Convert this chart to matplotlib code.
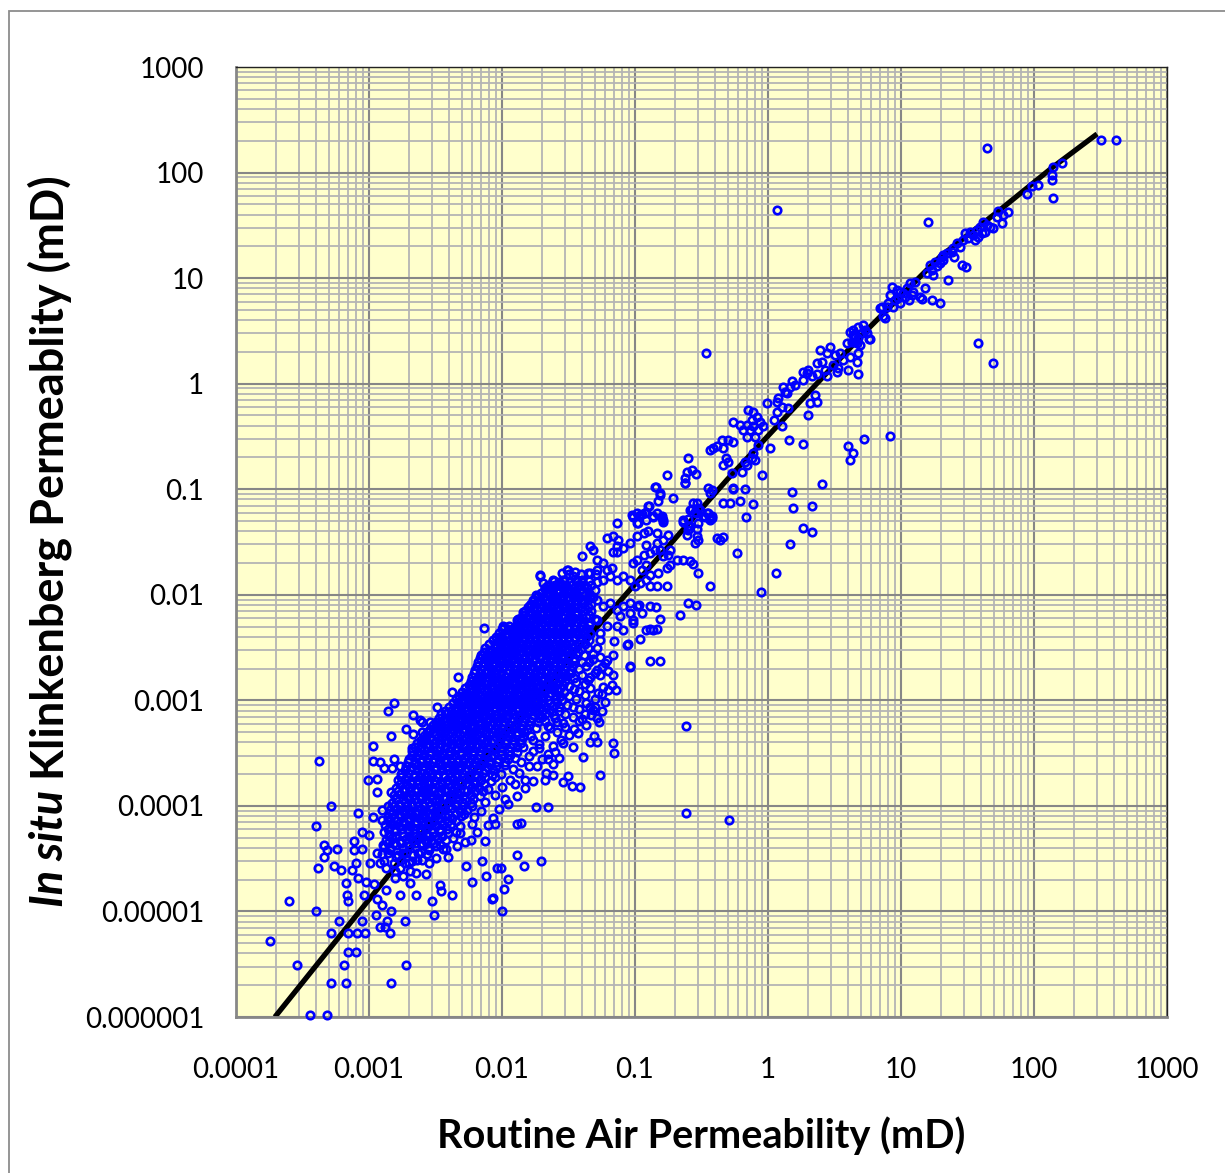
import matplotlib
matplotlib.use("Agg")
import matplotlib.pyplot as plt
from matplotlib.patches import Rectangle
from matplotlib.ticker import LogLocator, NullFormatter

# axis ticks
x_ticks = [1e-4, 1e-3, 1e-2, 1e-1, 1, 10, 100, 1000]
x_tick_labels = ['0.0001', '0.001', '0.01', '0.1', '1', '10', '100', '1000']
y_ticks = [1e-6, 1e-5, 1e-4, 1e-3, 1e-2, 1e-1, 1, 10, 100, 1000]
y_tick_labels = ['0.000001', '0.00001', '0.0001', '0.001', '0.01', '0.1', '1', '10', '100', '1000']

# correlation curve (routine air k -> in situ Klinkenberg k)
curve_x = [1.96e-4, 3.03e-3, 3.66e-2, 0.492, 5.55, 19.6, 55.5, 139, 298]
curve_y = [1.0e-6, 7.4e-5, 3.01e-3, 0.123, 3.23, 15.9, 44.3, 113, 232]

# samples: (routine air k, in situ k) in mD
tail_pts = [
    (1.8e-4,5.2e-6),(2.5e-4,1.25e-5),(4.0e-4,1.02e-5),(2.9e-4,3.1e-6),(3.6e-4,1.05e-6),(4.8e-4,1.05e-6),
    (5.2e-4,6.2e-6),(5.2e-4,2.1e-6),(6.7e-4,2.1e-6),(6.5e-4,3.1e-6),(6.9e-4,4.1e-6),(8.0e-4,4.1e-6),
    (8.1e-4,6.2e-6),(9.3e-4,6.2e-6),(6.9e-4,6.2e-6),(6.0e-4,8.2e-6),(8.9e-4,8.2e-6),(6.9e-4,1.25e-5),
    (1.12e-3,9.2e-6),(1.25e-3,1.14e-5),(1.46e-3,1.02e-5),(1.36e-3,8.2e-6),(1.21e-3,7.2e-6),(1.33e-3,7.2e-6),
    (1.44e-3,6.2e-6),(1.87e-3,8.2e-6),(1.9e-3,3.1e-6),(1.46e-3,2.1e-6),(2.96e-3,1.25e-5),(3.06e-3,9.2e-6),
    (8.4e-3,1.3e-5),(1.0e-2,1.02e-5),
    (4.0e-4,6.5e-5),(4.6e-4,4.3e-5),(4.8e-4,3.85e-5),(4.6e-4,3.3e-5),(5.7e-4,3.9e-5),(5.5e-4,2.7e-5),
    (4.1e-4,2.6e-5),(6.2e-4,2.45e-5),(6.7e-4,1.86e-5),(6.8e-4,1.44e-5),(7.7e-4,4.6e-5),(8.8e-4,5.7e-5),
    (1.0e-3,5.3e-5),(7.7e-4,3.85e-5),(8.8e-4,3.9e-5),(8.0e-4,2.9e-5),(1.01e-3,2.9e-5),(7.4e-4,2.45e-5),
    (8.2e-4,2.07e-5),(9.5e-4,1.9e-5),(1.09e-3,1.8e-5),(9.2e-4,1.42e-5),(1.14e-3,1.3e-5),(3.4e-3,1.77e-5),
    (3.5e-3,1.55e-5),(4.2e-3,1.42e-5),(2.25e-3,1.42e-5),(1.7e-3,1.42e-5),(2.05e-3,1.86e-5),(2.7e-3,2.26e-5),
    (2.85e-3,2.9e-5),(3.95e-3,3.3e-5),(5.9e-3,1.9e-5),(5.4e-3,2.7e-5),(7.1e-3,3.0e-5),(7.6e-3,2.15e-5),
    (8.5e-3,1.33e-5),(1.03e-2,1.63e-5),(1.1e-2,2.05e-5),(9.1e-3,2.6e-5),(9.8e-3,2.6e-5),(1.29e-2,3.4e-5),
    (1.46e-2,2.7e-5),(7.4e-3,4.6e-5),(1.3e-2,6.8e-5),(8.8e-3,6.8e-5),(5.3e-3,4.5e-5),(3.8e-3,3.9e-5),
    (3.4e-3,4.3e-5),(4.8e-3,5.5e-5),(1.38e-2,6.9e-5),(1.95e-2,3.0e-5),(1.8e-2,9.8e-5),(2.2e-2,9.8e-5),
    (1.35e-3,1.6e-5),(1.57e-3,2.07e-5),(1.8e-3,2.15e-5),(1.35e-3,2.6e-5),(1.57e-3,2.4e-5),(1.7e-3,2.6e-5),
    (2.05e-3,2.4e-5),(1.87e-3,2.9e-5),(2.1e-3,3.0e-5),(1.6e-3,3.3e-5),(1.8e-3,3.6e-5),(1.44e-3,3.85e-5),
    (1.27e-3,4.3e-5),(1.14e-3,3.6e-5),(1.2e-3,2.9e-5),(2.34e-3,3.6e-5),(2.5e-3,3.1e-5),(2.27e-3,2.3e-5),
    (2.85e-3,3.85e-5),(3.2e-3,3.2e-5),(2.7e-3,4.8e-5),
]

left_pts = [
    (1.53e-3,9.4e-4),(1.38e-3,7.9e-4),(2.15e-3,7.2e-4),(2.5e-3,6.3e-4),(1.9e-3,5.3e-4),(1.46e-3,4.6e-4),
    (2.13e-3,4.8e-4),(2.5e-3,5.0e-4),(1.07e-3,3.7e-4),(2.1e-3,3.55e-4),(4.2e-4,2.64e-4),(1.07e-3,2.64e-4),
    (1.22e-3,2.6e-4),(1.53e-3,2.8e-4),(1.7e-3,2.4e-4),(1.3e-3,2.3e-4),(1.5e-3,2.3e-4),(9.9e-4,1.77e-4),
    (1.14e-3,1.78e-4),(1.14e-3,1.34e-4),(1.47e-3,1.34e-4),(5.2e-4,1.0e-4),(8.2e-4,8.6e-5),(1.08e-3,7.9e-5),
    (1.25e-3,9.1e-5),(1.38e-3,1.0e-4),(1.25e-3,7.4e-5),(1.38e-3,7.4e-5),
    (4.7e-3,1.68e-3),(4.2e-3,1.21e-3),(3.27e-3,8.65e-4),(2.43e-3,6.5e-4),(2.9e-3,6.2e-4),
    (1.93e-2,1.55e-2),(2.04e-2,1.29e-2),(2.1e-2,1.16e-2),(2.23e-2,1.13e-2),(2.46e-2,1.34e-2),(2.65e-2,1.24e-2),
    (2.89e-2,1.39e-2),(3.06e-2,1.73e-2),(1.8e-2,9.9e-3),(1.62e-2,8.0e-3),(1.45e-2,6.8e-3),(1.6e-2,6.8e-3),
    (7.33e-3,4.84e-3),(1.035e-2,4.94e-3),(1.32e-2,5.89e-3),(1.29e-2,5.2e-3),(1.36e-2,4.34e-3),(9.9e-3,4.03e-3),
    (1.01e-2,3.61e-3),(1.15e-2,3.75e-3),(9.66e-3,2.7e-3),(7.02e-3,2.7e-3),(7.66e-3,2.6e-3),(1.11e-2,2.9e-3),
]

right_pts = [
    (0.092,2.1e-3),(0.088,3.4e-3),(0.072,1.26e-3),(0.0667,1.41e-3),(0.0578,1.35e-3),(0.063,1.88e-3),
    (0.0688,1.75e-3),(0.0546,1.75e-3),(0.0562,7.85e-4),(0.0515,6.8e-4),(0.0486,8.15e-4),(0.0679,3.94e-4),
    (0.0698,3.2e-4),(0.0492,4.6e-4),(0.0515,4.0e-4),(0.0459,4.0e-4),(0.0405,2.9e-4),(0.0546,1.97e-4),
    (0.0387,1.5e-4),(0.0334,1.56e-4),(0.0289,1.67e-4),(0.0316,1.9e-4),(0.024,1.97e-4),(0.021,1.77e-4),
    (0.0214,2.05e-4),(0.0149,1.77e-4),(0.0182,2.37e-4),(0.0199,2.78e-4),(0.24,5.66e-4),(0.24,8.55e-5),
    (0.51,7.4e-5),
    (2.4e-2,3.7e-4),(2.8e-2,4.2e-4),(3.4e-2,3.6e-4),(2.6e-2,5.0e-4),(3.0e-2,5.6e-4),(3.7e-2,4.9e-4),(4.3e-2,5.8e-4),
    (2.5e-2,6.8e-4),(2.9e-2,6.1e-4),(3.4e-2,7.0e-4),(4.0e-2,6.6e-4),(4.7e-2,7.2e-4),(5.4e-2,6.3e-4),
    (2.7e-2,8.0e-4),(3.1e-2,9.1e-4),(3.8e-2,8.2e-4),(4.3e-2,9.4e-4),(5.0e-2,8.6e-4),(6.0e-2,9.7e-4),
    (3.2e-2,1.1e-3),(3.5e-2,1.27e-3),(4.2e-2,1.12e-3),(4.6e-2,1.32e-3),(5.6e-2,1.15e-3),(6.3e-2,1.25e-3),
    (3.6e-2,1.5e-3),(4.0e-2,1.75e-3),(4.4e-2,1.55e-3),(5.0e-2,1.8e-3),(3.3e-2,1.8e-3),(4.3e-2,2.1e-3),
    (5.6e-2,2.05e-3),(4.8e-2,2.45e-3),(5.5e-2,2.6e-3),(6.2e-2,2.4e-3),
    (2.2e-2,5.7e-4),(2.0e-2,7.0e-4),(2.3e-2,8.1e-4),(2.6e-2,9.6e-4),(2.75e-2,1.1e-3),
    (1.2e-2,2.25e-4),(1.4e-2,2.6e-4),(1.6e-2,3.0e-4),(1.45e-2,3.6e-4),(1.7e-2,4.2e-4),(1.9e-2,3.5e-4),
    (2.2e-2,3.1e-4),(1.25e-2,1.6e-4),(1.05e-2,1.15e-4),(2.4e-2,2.5e-4),
]

core_low = [
    (1.3e-3,3.0e-5),(1.55e-3,2.9e-5),(1.75e-3,3.1e-5),(2.0e-3,2.85e-5),(2.3e-3,3.05e-5),
    (1.25e-3,3.5e-5),(1.4e-3,3.6e-5),(1.65e-3,3.4e-5),(1.9e-3,3.55e-5),(2.15e-3,3.45e-5),(2.45e-3,3.65e-5),(2.75e-3,3.5e-5),
    (1.3e-3,4.1e-5),(1.45e-3,4.0e-5),(1.6e-3,4.25e-5),(1.8e-3,3.95e-5),(2.0e-3,4.2e-5),(2.25e-3,4.05e-5),
    (2.5e-3,4.3e-5),(2.8e-3,4.0e-5),(3.2e-3,4.15e-5),(3.6e-3,3.9e-5),(4.6e-3,4.2e-5),
    (1.35e-3,4.8e-5),(1.5e-3,4.95e-5),(1.7e-3,4.7e-5),(1.9e-3,4.9e-5),(2.1e-3,4.75e-5),(2.35e-3,5.0e-5),
    (2.65e-3,4.8e-5),(2.95e-3,4.65e-5),(3.3e-3,4.9e-5),(3.8e-3,4.75e-5),(4.3e-3,5.0e-5),(5.8e-3,4.8e-5),
    (1.3e-3,5.6e-5),(1.42e-3,5.45e-5),(1.6e-3,5.75e-5),(1.78e-3,5.5e-5),(2.0e-3,5.8e-5),(2.2e-3,5.55e-5),
    (2.45e-3,5.7e-5),(2.7e-3,5.4e-5),(3.05e-3,5.65e-5),(3.4e-3,5.8e-5),(3.9e-3,5.5e-5),(4.5e-3,5.6e-5),(6.5e-3,5.7e-5),
    (1.32e-3,6.6e-5),(1.5e-3,6.8e-5),(1.68e-3,6.45e-5),(1.85e-3,6.7e-5),(2.05e-3,6.5e-5),(2.3e-3,6.85e-5),
    (2.55e-3,6.55e-5),(2.85e-3,6.75e-5),(3.2e-3,6.4e-5),(3.6e-3,6.65e-5),(4.1e-3,6.8e-5),(4.8e-3,6.5e-5),
    (6.0e-3,6.7e-5),(7.8e-3,6.55e-5),
    (1.4e-3,7.8e-5),(1.55e-3,7.6e-5),(1.75e-3,8.0e-5),(1.95e-3,7.7e-5),(2.15e-3,8.1e-5),(2.4e-3,7.55e-5),
    (2.65e-3,7.9e-5),(2.95e-3,8.05e-5),(3.3e-3,7.65e-5),(3.7e-3,7.95e-5),(4.2e-3,7.7e-5),(4.9e-3,8.0e-5),
    (6.2e-3,7.8e-5),(8.5e-3,7.6e-5),
    (1.45e-3,9.1e-5),(1.62e-3,9.35e-5),(1.8e-3,8.9e-5),(2.0e-3,9.2e-5),(2.2e-3,8.8e-5),(2.45e-3,9.4e-5),
    (2.7e-3,9.0e-5),(3.0e-3,9.3e-5),(3.35e-3,8.85e-5),(3.75e-3,9.15e-5),(4.2e-3,9.45e-5),(4.8e-3,8.95e-5),
    (5.5e-3,9.2e-5),(7.0e-3,9.0e-5),(9.5e-3,9.3e-5),
    (1.5e-3,1.07e-4),(1.68e-3,1.04e-4),(1.88e-3,1.1e-4),(2.1e-3,1.05e-4),(2.3e-3,1.09e-4),(2.55e-3,1.03e-4),
    (2.85e-3,1.08e-4),(3.15e-3,1.11e-4),(3.5e-3,1.05e-4),(3.9e-3,1.08e-4),(4.4e-3,1.04e-4),(5.0e-3,1.1e-4),
    (5.8e-3,1.06e-4),(7.5e-3,1.08e-4),(1.1e-2,1.05e-4),
    (1.55e-3,1.26e-4),(1.72e-3,1.3e-4),(1.92e-3,1.22e-4),(2.15e-3,1.28e-4),(2.4e-3,1.24e-4),(2.65e-3,1.31e-4),
    (2.95e-3,1.25e-4),(3.3e-3,1.29e-4),(3.65e-3,1.21e-4),(4.05e-3,1.27e-4),(4.55e-3,1.3e-4),(5.1e-3,1.23e-4),
    (5.8e-3,1.28e-4),(6.8e-3,1.25e-4),(8.8e-3,1.27e-4),(1.3e-2,1.24e-4),
    (1.6e-3,1.48e-4),(1.8e-3,1.44e-4),(2.0e-3,1.52e-4),(2.2e-3,1.46e-4),(2.45e-3,1.5e-4),(2.7e-3,1.43e-4),
    (3.0e-3,1.49e-4),(3.35e-3,1.53e-4),(3.7e-3,1.45e-4),(4.1e-3,1.5e-4),(4.6e-3,1.47e-4),(5.2e-3,1.42e-4),
    (5.9e-3,1.51e-4),(6.7e-3,1.48e-4),(7.8e-3,1.45e-4),(1.0e-2,1.5e-4),(1.5e-2,1.47e-4),
    (1.65e-3,1.74e-4),(1.85e-3,1.79e-4),(2.05e-3,1.7e-4),(2.3e-3,1.76e-4),(2.55e-3,1.8e-4),(2.8e-3,1.71e-4),
    (3.1e-3,1.77e-4),(3.45e-3,1.69e-4),(3.85e-3,1.75e-4),(4.3e-3,1.8e-4),(4.8e-3,1.72e-4),(5.4e-3,1.78e-4),
    (6.1e-3,1.7e-4),(7.0e-3,1.76e-4),(8.2e-3,1.73e-4),(1.15e-2,1.77e-4),(1.7e-2,1.71e-4),
    (1.75e-3,2.0e-4),(1.95e-3,2.06e-4),(2.2e-3,1.96e-4),(2.45e-3,2.03e-4),(2.7e-3,1.98e-4),(3.0e-3,2.07e-4),
    (3.3e-3,2.0e-4),(3.65e-3,1.95e-4),(4.05e-3,2.04e-4),(4.5e-3,1.99e-4),(5.0e-3,2.06e-4),(5.6e-3,1.97e-4),
    (6.3e-3,2.02e-4),(7.2e-3,2.05e-4),(8.4e-3,1.96e-4),(9.8e-3,2.01e-4),(1.35e-2,2.04e-4),
    (1.9e-3,2.4e-4),(2.1e-3,2.34e-4),(2.35e-3,2.46e-4),(2.6e-3,2.37e-4),(2.9e-3,2.43e-4),(3.2e-3,2.33e-4),
    (3.55e-3,2.45e-4),(3.95e-3,2.38e-4),(4.4e-3,2.42e-4),(4.9e-3,2.35e-4),(5.5e-3,2.47e-4),(6.1e-3,2.39e-4),
    (6.9e-3,2.44e-4),(7.8e-3,2.36e-4),(9.0e-3,2.41e-4),(1.05e-2,2.44e-4),(1.6e-2,2.38e-4),
]

core_mid = [
    (2.0e-3,2.8e-4),(2.25e-3,2.88e-4),(2.5e-3,2.74e-4),(2.8e-3,2.85e-4),(3.1e-3,2.77e-4),(3.45e-3,2.9e-4),
    (3.8e-3,2.78e-4),(4.2e-3,2.84e-4),(4.7e-3,2.72e-4),(5.2e-3,2.87e-4),(5.8e-3,2.79e-4),(6.5e-3,2.83e-4),
    (7.3e-3,2.75e-4),(8.2e-3,2.89e-4),(9.4e-3,2.8e-4),(1.1e-2,2.76e-4),(1.25e-2,2.86e-4),(2.2e-2,2.8e-4),(2.7e-2,2.84e-4),
    (2.1e-3,3.3e-4),(2.35e-3,3.22e-4),(2.6e-3,3.38e-4),(2.9e-3,3.26e-4),(3.25e-3,3.35e-4),(3.6e-3,3.2e-4),
    (4.0e-3,3.32e-4),(4.45e-3,3.4e-4),(4.95e-3,3.25e-4),(5.5e-3,3.36e-4),(6.1e-3,3.28e-4),(6.8e-3,3.34e-4),
    (7.6e-3,3.21e-4),(8.6e-3,3.37e-4),(9.8e-3,3.29e-4),(1.12e-2,3.33e-4),(1.3e-2,3.24e-4),(1.7e-2,3.31e-4),(2.5e-2,3.27e-4),
    (2.3e-3,3.9e-4),(2.55e-3,3.99e-4),(2.85e-3,3.82e-4),(3.15e-3,3.95e-4),(3.5e-3,3.86e-4),(3.9e-3,4.0e-4),
    (4.3e-3,3.88e-4),(4.8e-3,3.94e-4),(5.3e-3,3.8e-4),(5.9e-3,3.97e-4),(6.6e-3,3.85e-4),(7.4e-3,3.92e-4),
    (8.3e-3,4.01e-4),(9.3e-3,3.84e-4),(1.05e-2,3.96e-4),(1.2e-2,3.87e-4),(1.4e-2,3.93e-4),(1.9e-2,3.89e-4),(2.9e-2,3.98e-4),
    (2.6e-3,4.6e-4),(2.9e-3,4.5e-4),(3.2e-3,4.7e-4),(3.55e-3,4.55e-4),(3.95e-3,4.68e-4),(4.35e-3,4.52e-4),
    (4.8e-3,4.65e-4),(5.35e-3,4.48e-4),(5.9e-3,4.62e-4),(6.5e-3,4.72e-4),(7.2e-3,4.54e-4),(8.0e-3,4.66e-4),
    (9.0e-3,4.5e-4),(1.0e-2,4.64e-4),(1.12e-2,4.57e-4),(1.27e-2,4.7e-4),(1.45e-2,4.53e-4),(1.65e-2,4.61e-4),
    (2.1e-2,4.58e-4),(3.2e-2,4.66e-4),
    (2.9e-3,5.4e-4),(3.2e-3,5.52e-4),(3.55e-3,5.3e-4),(3.9e-3,5.46e-4),(4.3e-3,5.34e-4),(4.75e-3,5.55e-4),
    (5.25e-3,5.38e-4),(5.8e-3,5.5e-4),(6.4e-3,5.28e-4),(7.1e-3,5.44e-4),(7.9e-3,5.56e-4),(8.8e-3,5.33e-4),
    (9.8e-3,5.48e-4),(1.1e-2,5.36e-4),(1.23e-2,5.53e-4),(1.38e-2,5.41e-4),(1.55e-2,5.31e-4),(1.8e-2,5.49e-4),
    (2.3e-2,5.42e-4),(3.5e-2,5.37e-4),
    (3.2e-3,6.3e-4),(3.5e-3,6.15e-4),(3.85e-3,6.42e-4),(4.25e-3,6.22e-4),(4.7e-3,6.38e-4),(5.2e-3,6.12e-4),
    (5.75e-3,6.35e-4),(6.3e-3,6.45e-4),(6.95e-3,6.2e-4),(7.7e-3,6.33e-4),(8.5e-3,6.18e-4),(9.4e-3,6.4e-4),
    (1.04e-2,6.25e-4),(1.16e-2,6.36e-4),(1.3e-2,6.14e-4),(1.45e-2,6.3e-4),(1.62e-2,6.43e-4),(1.85e-2,6.21e-4),
    (2.1e-2,6.34e-4),(2.6e-2,6.27e-4),(3.8e-2,6.39e-4),
    (3.5e-3,7.4e-4),(3.85e-3,7.58e-4),(4.2e-3,7.25e-4),(4.65e-3,7.5e-4),(5.1e-3,7.3e-4),(5.65e-3,7.55e-4),
    (6.2e-3,7.35e-4),(6.85e-3,7.6e-4),(7.55e-3,7.22e-4),(8.3e-3,7.46e-4),(9.2e-3,7.32e-4),(1.01e-2,7.57e-4),
    (1.12e-2,7.28e-4),(1.24e-2,7.48e-4),(1.38e-2,7.36e-4),(1.53e-2,7.53e-4),(1.7e-2,7.26e-4),(1.9e-2,7.44e-4),
    (2.15e-2,7.59e-4),(2.45e-2,7.31e-4),(3.0e-2,7.42e-4),(4.2e-2,7.5e-4),
    (4.0e-3,8.7e-4),(4.4e-3,8.5e-4),(4.85e-3,8.88e-4),(5.35e-3,8.6e-4),(5.9e-3,8.82e-4),(6.5e-3,8.52e-4),
    (7.15e-3,8.75e-4),(7.9e-3,8.9e-4),(8.7e-3,8.56e-4),(9.6e-3,8.8e-4),(1.06e-2,8.62e-4),(1.17e-2,8.85e-4),
    (1.29e-2,8.54e-4),(1.42e-2,8.77e-4),(1.57e-2,8.65e-4),(1.74e-2,8.92e-4),(1.93e-2,8.58e-4),(2.15e-2,8.72e-4),
    (2.4e-2,8.84e-4),(2.7e-2,8.6e-4),(3.4e-2,8.74e-4),(4.6e-2,8.66e-4),
    (4.5e-3,1.02e-3),(4.95e-3,1.0e-3),(5.45e-3,1.045e-3),(6.0e-3,1.01e-3),(6.6e-3,1.04e-3),(7.25e-3,9.95e-4),
    (8.0e-3,1.03e-3),(8.8e-3,1.05e-3),(9.7e-3,1.005e-3),(1.07e-2,1.035e-3),(1.18e-2,1.0e-3),(1.3e-2,1.04e-3),
    (1.43e-2,1.01e-3),(1.58e-2,1.03e-3),(1.75e-2,9.98e-4),(1.95e-2,1.045e-3),(2.2e-2,1.015e-3),(2.5e-2,1.025e-3),
    (2.85e-2,1.0e-3),(3.6e-2,1.03e-3),(5.0e-2,1.02e-3),
    (5.0e-3,1.2e-3),(5.5e-3,1.17e-3),(6.05e-3,1.23e-3),(6.65e-3,1.18e-3),(7.3e-3,1.22e-3),(8.05e-3,1.16e-3),
    (8.85e-3,1.21e-3),(9.75e-3,1.24e-3),(1.07e-2,1.18e-3),(1.18e-2,1.22e-3),(1.3e-2,1.17e-3),(1.43e-2,1.23e-3),
    (1.58e-2,1.19e-3),(1.74e-2,1.21e-3),(1.92e-2,1.16e-3),(2.12e-2,1.235e-3),(2.35e-2,1.185e-3),(2.62e-2,1.215e-3),
    (2.95e-2,1.195e-3),(3.8e-2,1.22e-3),(5.3e-2,1.18e-3),
]

core_high = [
    (5.6e-3,1.4e-3),(6.15e-3,1.43e-3),(6.75e-3,1.37e-3),(7.4e-3,1.42e-3),(8.15e-3,1.38e-3),(8.95e-3,1.44e-3),
    (9.85e-3,1.36e-3),(1.08e-2,1.41e-3),(1.19e-2,1.435e-3),(1.31e-2,1.375e-3),(1.44e-2,1.42e-3),(1.59e-2,1.385e-3),
    (1.75e-2,1.445e-3),(1.93e-2,1.39e-3),(2.13e-2,1.415e-3),(2.35e-2,1.365e-3),(2.6e-2,1.43e-3),(2.9e-2,1.4e-3),
    (3.2e-2,1.38e-3),(4.2e-2,1.42e-3),
    (6.0e-3,1.65e-3),(6.6e-3,1.61e-3),(7.25e-3,1.69e-3),(7.95e-3,1.63e-3),(8.75e-3,1.68e-3),(9.6e-3,1.6e-3),
    (1.06e-2,1.67e-3),(1.16e-2,1.62e-3),(1.28e-2,1.7e-3),(1.41e-2,1.64e-3),(1.55e-2,1.66e-3),(1.7e-2,1.615e-3),
    (1.87e-2,1.685e-3),(2.06e-2,1.635e-3),(2.27e-2,1.675e-3),(2.5e-2,1.6e-3),(2.75e-2,1.66e-3),(3.05e-2,1.69e-3),
    (3.5e-2,1.63e-3),(4.6e-2,1.65e-3),
    (6.3e-3,1.95e-3),(6.95e-3,2.0e-3),(7.65e-3,1.9e-3),(8.4e-3,1.97e-3),(9.25e-3,1.92e-3),(1.02e-2,2.01e-3),
    (1.12e-2,1.93e-3),(1.23e-2,1.98e-3),(1.35e-2,1.89e-3),(1.49e-2,1.96e-3),(1.64e-2,2.0e-3),(1.8e-2,1.91e-3),
    (1.98e-2,1.97e-3),(2.18e-2,1.94e-3),(2.4e-2,1.99e-3),(2.65e-2,1.9e-3),(2.95e-2,1.96e-3),(3.3e-2,1.93e-3),
    (3.8e-2,1.98e-3),(5.2e-2,1.95e-3),
    (6.6e-3,2.3e-3),(7.3e-3,2.25e-3),(8.0e-3,2.35e-3),(8.8e-3,2.27e-3),(9.7e-3,2.33e-3),(1.07e-2,2.24e-3),
    (1.17e-2,2.36e-3),(1.29e-2,2.28e-3),(1.42e-2,2.32e-3),(1.56e-2,2.22e-3),(1.72e-2,2.34e-3),(1.89e-2,2.26e-3),
    (2.08e-2,2.31e-3),(2.29e-2,2.37e-3),(2.52e-2,2.25e-3),(2.78e-2,2.3e-3),(3.1e-2,2.27e-3),(3.5e-2,2.34e-3),
    (4.0e-2,2.29e-3),(4.5e-2,2.33e-3),(6.0e-2,2.28e-3),
    (7.0e-3,2.7e-3),(7.7e-3,2.76e-3),(8.5e-3,2.64e-3),(9.3e-3,2.73e-3),(1.02e-2,2.66e-3),(1.12e-2,2.78e-3),
    (1.23e-2,2.68e-3),(1.35e-2,2.74e-3),(1.49e-2,2.62e-3),(1.64e-2,2.71e-3),(1.8e-2,2.77e-3),(1.98e-2,2.65e-3),
    (2.18e-2,2.72e-3),(2.4e-2,2.69e-3),(2.64e-2,2.75e-3),(2.9e-2,2.63e-3),(3.2e-2,2.7e-3),(3.6e-2,2.74e-3),
    (4.1e-2,2.67e-3),(4.8e-2,2.72e-3),(6.8e-2,2.7e-3),
    (7.5e-3,3.1e-3),(8.3e-3,3.03e-3),(9.1e-3,3.18e-3),(1.0e-2,3.06e-3),(1.1e-2,3.15e-3),(1.21e-2,3.01e-3),
    (1.33e-2,3.12e-3),(1.46e-2,3.2e-3),(1.61e-2,3.05e-3),(1.77e-2,3.14e-3),(1.95e-2,3.08e-3),(2.15e-2,3.17e-3),
    (2.37e-2,3.02e-3),(2.6e-2,3.11e-3),(2.86e-2,3.19e-3),(3.15e-2,3.04e-3),(3.5e-2,3.13e-3),(3.9e-2,3.07e-3),
    (4.4e-2,3.16e-3),(5.2e-2,3.1e-3),
    (8.5e-3,3.7e-3),(9.3e-3,3.62e-3),(1.02e-2,3.8e-3),(1.12e-2,3.65e-3),(1.23e-2,3.76e-3),(1.35e-2,3.6e-3),
    (1.48e-2,3.73e-3),(1.63e-2,3.82e-3),(1.79e-2,3.64e-3),(1.97e-2,3.75e-3),(2.17e-2,3.67e-3),(2.39e-2,3.79e-3),
    (2.63e-2,3.61e-3),(2.9e-2,3.72e-3),(3.2e-2,3.68e-3),(3.55e-2,3.78e-3),(3.95e-2,3.63e-3),(4.5e-2,3.74e-3),
    (5.5e-2,3.7e-3),(7.0e-2,3.66e-3),
    (9.5e-3,4.3e-3),(1.05e-2,4.2e-3),(1.16e-2,4.4e-3),(1.28e-2,4.25e-3),(1.4e-2,4.37e-3),(1.54e-2,4.18e-3),
    (1.7e-2,4.33e-3),(1.87e-2,4.42e-3),(2.05e-2,4.23e-3),(2.26e-2,4.35e-3),(2.48e-2,4.27e-3),(2.73e-2,4.39e-3),
    (3.0e-2,4.21e-3),(3.3e-2,4.32e-3),(3.65e-2,4.28e-3),(4.05e-2,4.38e-3),(4.6e-2,4.24e-3),(5.5e-2,4.3e-3),
    (1.12e-2,5.1e-3),(1.25e-2,5.0e-3),(1.4e-2,5.2e-3),(1.55e-2,5.05e-3),(1.72e-2,5.18e-3),(1.9e-2,4.98e-3),
    (2.1e-2,5.14e-3),(2.35e-2,5.22e-3),(2.6e-2,5.03e-3),(2.9e-2,5.16e-3),(3.2e-2,5.07e-3),(3.55e-2,5.2e-3),
    (3.95e-2,5.01e-3),(4.5e-2,5.12e-3),
    (1.4e-2,6.0e-3),(1.55e-2,6.12e-3),(1.72e-2,5.9e-3),(1.9e-2,6.08e-3),(2.1e-2,5.94e-3),(2.32e-2,6.15e-3),
    (2.56e-2,5.97e-3),(2.83e-2,6.1e-3),(3.12e-2,5.88e-3),(3.45e-2,6.05e-3),(3.82e-2,5.95e-3),(4.25e-2,6.13e-3),
    (5.0e-2,5.92e-3),
    (1.5e-2,7.0e-3),(1.66e-2,6.88e-3),(1.83e-2,7.12e-3),(2.02e-2,6.92e-3),(2.23e-2,7.08e-3),(2.46e-2,6.85e-3),
    (2.72e-2,7.14e-3),(3.0e-2,6.95e-3),(3.32e-2,7.1e-3),(3.68e-2,6.9e-3),(4.1e-2,7.05e-3),(4.7e-2,6.98e-3),
    (1.65e-2,8.2e-3),(1.83e-2,8.35e-3),(2.02e-2,8.08e-3),(2.23e-2,8.28e-3),(2.46e-2,8.12e-3),(2.72e-2,8.38e-3),
    (3.0e-2,8.05e-3),(3.32e-2,8.25e-3),(3.68e-2,8.15e-3),(4.1e-2,8.32e-3),(4.7e-2,8.1e-3),
    (1.85e-2,9.7e-3),(2.05e-2,9.55e-3),(2.27e-2,9.85e-3),(2.51e-2,9.6e-3),(2.78e-2,9.82e-3),(3.07e-2,9.52e-3),
    (3.4e-2,9.78e-3),(3.77e-2,9.63e-3),(4.2e-2,9.88e-3),(4.8e-2,9.58e-3),
    (2.1e-2,1.14e-2),(2.33e-2,1.16e-2),(2.58e-2,1.12e-2),(2.86e-2,1.155e-2),(3.17e-2,1.125e-2),(3.5e-2,1.165e-2),
    (3.9e-2,1.13e-2),(4.35e-2,1.15e-2),(5.0e-2,1.12e-2),
    (2.4e-2,1.34e-2),(2.66e-2,1.32e-2),(2.95e-2,1.365e-2),(3.27e-2,1.325e-2),(3.62e-2,1.355e-2),(4.02e-2,1.315e-2),
    (4.5e-2,1.36e-2),(5.2e-2,1.33e-2),
    (2.85e-2,1.6e-2),(3.2e-2,1.57e-2),(3.55e-2,1.63e-2),(3.95e-2,1.58e-2),(4.45e-2,1.62e-2),(5.1e-2,1.59e-2),
]

# in-between rows of the dense cloud: in situ value of each row, then its air values
fill_y = [4.45e-5, 5.2e-5, 6.1e-5, 7.2e-5, 8.4e-5, 9.9e-5, 1.16e-4, 1.37e-4, 1.6e-4, 1.87e-4, 2.2e-4, 2.6e-4,
          3.05e-4, 3.6e-4, 4.25e-4, 5.0e-4, 5.85e-4, 6.85e-4, 8.0e-4, 9.4e-4, 1.1e-3, 1.3e-3, 1.52e-3, 1.8e-3,
          2.12e-3, 2.5e-3, 2.9e-3, 3.4e-3, 4.0e-3, 4.7e-3, 5.55e-3, 6.5e-3, 7.6e-3, 8.9e-3, 1.05e-2, 1.24e-2]
fill_x = [
    [1.38e-3, 1.55e-3, 1.75e-3, 1.95e-3, 2.2e-3, 2.45e-3, 2.75e-3, 3.1e-3],
    [1.42e-3, 1.6e-3, 1.8e-3, 2.0e-3, 2.25e-3, 2.5e-3, 2.8e-3, 3.15e-3, 3.55e-3],
    [1.4e-3, 1.58e-3, 1.76e-3, 1.95e-3, 2.18e-3, 2.42e-3, 2.7e-3, 3.0e-3, 3.4e-3, 3.85e-3],
    [1.45e-3, 1.62e-3, 1.8e-3, 2.0e-3, 2.25e-3, 2.5e-3, 2.8e-3, 3.1e-3, 3.5e-3, 3.95e-3, 4.5e-3],
    [1.5e-3, 1.68e-3, 1.86e-3, 2.08e-3, 2.3e-3, 2.55e-3, 2.85e-3, 3.15e-3, 3.5e-3, 3.95e-3, 4.5e-3, 5.2e-3],
    [1.55e-3, 1.72e-3, 1.92e-3, 2.12e-3, 2.35e-3, 2.6e-3, 2.9e-3, 3.25e-3, 3.6e-3, 4.0e-3, 4.5e-3, 5.1e-3, 5.9e-3],
    [1.6e-3, 1.8e-3, 2.0e-3, 2.2e-3, 2.45e-3, 2.7e-3, 3.0e-3, 3.35e-3, 3.75e-3, 4.2e-3, 4.7e-3, 5.3e-3, 6.1e-3],
    [1.65e-3, 1.85e-3, 2.05e-3, 2.3e-3, 2.55e-3, 2.8e-3, 3.1e-3, 3.45e-3, 3.85e-3, 4.3e-3, 4.85e-3, 5.5e-3, 6.3e-3, 7.2e-3],
    [1.7e-3, 1.9e-3, 2.1e-3, 2.35e-3, 2.6e-3, 2.85e-3, 3.15e-3, 3.55e-3, 3.95e-3, 4.4e-3, 4.95e-3, 5.6e-3, 6.3e-3, 7.3e-3],
    [1.75e-3, 1.95e-3, 2.18e-3, 2.42e-3, 2.68e-3, 2.95e-3, 3.25e-3, 3.65e-3, 4.05e-3, 4.55e-3, 5.1e-3, 5.75e-3,
     6.5e-3, 7.5e-3, 8.8e-3],
    [1.85e-3, 2.05e-3, 2.3e-3, 2.55e-3, 2.85e-3, 3.15e-3, 3.5e-3, 3.85e-3, 4.25e-3, 4.75e-3, 5.3e-3, 5.9e-3,
     6.6e-3, 7.5e-3, 8.5e-3],
    [1.95e-3, 2.2e-3, 2.45e-3, 2.75e-3, 3.05e-3, 3.35e-3, 3.7e-3, 4.1e-3, 4.55e-3, 5.1e-3, 5.65e-3, 6.3e-3,
     7.1e-3, 8.0e-3, 9.2e-3, 1.05e-2],
    [2.1e-3, 2.35e-3, 2.6e-3, 2.9e-3, 3.25e-3, 3.6e-3, 4.0e-3, 4.4e-3, 4.9e-3, 5.5e-3, 6.1e-3, 6.8e-3,
     7.7e-3, 8.7e-3, 9.9e-3, 1.15e-2],
    [2.2e-3, 2.45e-3, 2.75e-3, 3.05e-3, 3.4e-3, 3.75e-3, 4.15e-3, 4.6e-3, 5.15e-3, 5.7e-3, 6.35e-3, 7.1e-3,
     7.9e-3, 8.9e-3, 1.0e-2, 1.15e-2, 1.3e-2],
    [2.45e-3, 2.7e-3, 3.0e-3, 3.35e-3, 3.7e-3, 4.1e-3, 4.55e-3, 5.05e-3, 5.6e-3, 6.2e-3, 6.9e-3, 7.7e-3,
     8.6e-3, 9.6e-3, 1.08e-2, 1.22e-2, 1.38e-2],
    [2.75e-3, 3.05e-3, 3.4e-3, 3.75e-3, 4.15e-3, 4.55e-3, 5.05e-3, 5.6e-3, 6.15e-3, 6.8e-3, 7.55e-3, 8.4e-3,
     9.4e-3, 1.05e-2, 1.17e-2, 1.3e-2, 1.47e-2],
    [3.05e-3, 3.35e-3, 3.7e-3, 4.1e-3, 4.5e-3, 4.95e-3, 5.5e-3, 6.05e-3, 6.7e-3, 7.4e-3, 8.2e-3, 9.1e-3,
     1.01e-2, 1.13e-2, 1.26e-2, 1.42e-2, 1.6e-2],
    [3.35e-3, 3.7e-3, 4.05e-3, 4.45e-3, 4.9e-3, 5.4e-3, 5.95e-3, 6.55e-3, 7.2e-3, 8.0e-3, 8.85e-3, 9.8e-3,
     1.08e-2, 1.2e-2, 1.34e-2, 1.5e-2, 1.68e-2, 1.9e-2],
    [3.75e-3, 4.1e-3, 4.5e-3, 4.95e-3, 5.45e-3, 6.0e-3, 6.6e-3, 7.25e-3, 8.0e-3, 8.85e-3, 9.75e-3, 1.08e-2,
     1.19e-2, 1.32e-2, 1.46e-2, 1.62e-2, 1.8e-2, 2.0e-2],
    [4.25e-3, 4.65e-3, 5.1e-3, 5.6e-3, 6.2e-3, 6.85e-3, 7.55e-3, 8.3e-3, 9.2e-3, 1.01e-2, 1.12e-2, 1.23e-2,
     1.36e-2, 1.5e-2, 1.66e-2, 1.84e-2, 2.05e-2, 2.3e-2],
    [4.75e-3, 5.2e-3, 5.75e-3, 6.3e-3, 6.95e-3, 7.65e-3, 8.4e-3, 9.25e-3, 1.02e-2, 1.12e-2, 1.24e-2, 1.37e-2,
     1.51e-2, 1.66e-2, 1.84e-2, 2.04e-2, 2.27e-2, 2.55e-2],
    [5.3e-3, 5.8e-3, 6.4e-3, 7.0e-3, 7.7e-3, 8.5e-3, 9.35e-3, 1.03e-2, 1.13e-2, 1.25e-2, 1.37e-2, 1.51e-2,
     1.67e-2, 1.84e-2, 2.03e-2, 2.24e-2, 2.48e-2, 2.75e-2],
    [5.8e-3, 6.35e-3, 7.0e-3, 7.7e-3, 8.45e-3, 9.3e-3, 1.02e-2, 1.12e-2, 1.24e-2, 1.36e-2, 1.5e-2, 1.65e-2,
     1.82e-2, 2.0e-2, 2.2e-2, 2.42e-2, 2.68e-2, 2.98e-2],
    [6.15e-3, 6.8e-3, 7.45e-3, 8.2e-3, 9.0e-3, 9.9e-3, 1.09e-2, 1.2e-2, 1.32e-2, 1.45e-2, 1.6e-2, 1.76e-2,
     1.94e-2, 2.13e-2, 2.35e-2, 2.58e-2, 2.85e-2, 3.2e-2],
    [6.5e-3, 7.15e-3, 7.85e-3, 8.6e-3, 9.5e-3, 1.04e-2, 1.15e-2, 1.26e-2, 1.39e-2, 1.53e-2, 1.68e-2, 1.85e-2,
     2.03e-2, 2.24e-2, 2.46e-2, 2.72e-2, 3.0e-2, 3.35e-2],
    [6.85e-3, 7.5e-3, 8.25e-3, 9.05e-3, 1.0e-2, 1.1e-2, 1.2e-2, 1.32e-2, 1.46e-2, 1.6e-2, 1.76e-2, 1.94e-2,
     2.13e-2, 2.35e-2, 2.58e-2, 2.84e-2, 3.15e-2, 3.5e-2],
    [7.3e-3, 8.0e-3, 8.8e-3, 9.65e-3, 1.06e-2, 1.16e-2, 1.28e-2, 1.41e-2, 1.55e-2, 1.7e-2, 1.87e-2, 2.06e-2,
     2.27e-2, 2.5e-2, 2.75e-2, 3.02e-2, 3.35e-2, 3.7e-2],
    [8.0e-3, 8.8e-3, 9.65e-3, 1.06e-2, 1.17e-2, 1.28e-2, 1.41e-2, 1.55e-2, 1.7e-2, 1.87e-2, 2.06e-2, 2.27e-2,
     2.5e-2, 2.75e-2, 3.05e-2, 3.35e-2, 3.7e-2, 4.2e-2],
    [9.0e-3, 9.9e-3, 1.09e-2, 1.2e-2, 1.32e-2, 1.45e-2, 1.6e-2, 1.76e-2, 1.94e-2, 2.14e-2, 2.36e-2, 2.6e-2,
     2.86e-2, 3.15e-2, 3.48e-2, 3.85e-2, 4.3e-2],
    [1.0e-2, 1.1e-2, 1.21e-2, 1.33e-2, 1.47e-2, 1.62e-2, 1.78e-2, 1.96e-2, 2.16e-2, 2.38e-2, 2.62e-2, 2.88e-2,
     3.18e-2, 3.5e-2, 3.85e-2, 4.3e-2],
    [1.32e-2, 1.47e-2, 1.63e-2, 1.8e-2, 2.0e-2, 2.2e-2, 2.43e-2, 2.7e-2, 2.97e-2, 3.3e-2, 3.65e-2, 4.05e-2, 4.6e-2],
    [1.45e-2, 1.6e-2, 1.78e-2, 1.96e-2, 2.17e-2, 2.4e-2, 2.65e-2, 2.93e-2, 3.25e-2, 3.6e-2, 4.0e-2, 4.5e-2],
    [1.58e-2, 1.75e-2, 1.93e-2, 2.13e-2, 2.35e-2, 2.6e-2, 2.87e-2, 3.17e-2, 3.5e-2, 3.9e-2, 4.4e-2],
    [1.75e-2, 1.94e-2, 2.14e-2, 2.36e-2, 2.6e-2, 2.88e-2, 3.18e-2, 3.52e-2, 3.9e-2, 4.4e-2],
    [1.97e-2, 2.17e-2, 2.4e-2, 2.65e-2, 2.93e-2, 3.25e-2, 3.6e-2, 4.0e-2, 4.5e-2],
    [2.25e-2, 2.5e-2, 2.76e-2, 3.05e-2, 3.38e-2, 3.75e-2, 4.15e-2, 4.7e-2],
]

mid_pts = [
    (0.144,0.105),(0.154,0.0885),(0.150,0.0766),(0.238,0.114),(0.356,0.102),(0.366,0.0918),(0.542,0.102),
    (0.671,0.100),(0.615,0.0766),(0.461,0.0738),(0.518,0.0748),
    (0.299,0.0662),(0.291,0.0738),(0.282,0.0615),(0.267,0.0647),(0.346,0.0593),(0.366,0.0532),(0.327,0.0552),
    (0.0728,0.0478),(0.0944,0.0573),(0.103,0.0593),(0.112,0.0581),(0.122,0.0615),(0.128,0.0686),(0.137,0.0552),
    (0.159,0.0552),(0.163,0.0513),(0.231,0.0513),(0.252,0.0521),(0.377,0.0552),
    (0.0612,0.0344),(0.0687,0.0357),(0.0750,0.0332),(0.0917,0.0308),(0.103,0.0357),(0.103,0.0478),(0.116,0.0384),
    (0.126,0.0398),(0.146,0.0384),(0.146,0.0308),(0.163,0.0332),(0.178,0.0370),(0.247,0.0370),(0.259,0.0444),
    (0.291,0.0419),(0.252,0.0413),(0.291,0.0357),(0.282,0.0308),(0.299,0.0332),(0.411,0.0344),(0.436,0.0332),
    (0.461,0.0352),(0.183,0.0267),(0.154,0.0267),(0.122,0.0297),(0.0817,0.0277),(0.0687,0.0257),(0.0728,0.0287),
    (0.0397,0.0231),(0.0459,0.0287),(0.0486,0.0267),(0.0515,0.0214),(0.0578,0.0200),(0.0612,0.0173),(0.0668,0.0179),
    (0.0728,0.0257),(0.0971,0.0200),(0.103,0.0214),(0.116,0.0239),(0.130,0.0248),(0.141,0.0267),(0.163,0.0231),
    (0.178,0.0239),(0.206,0.0214),(0.231,0.0214),(0.259,0.0207),(0.275,0.0197),(0.183,0.0192),(0.173,0.0179),
    (0.122,0.0192),(0.112,0.0173),(0.130,0.0155),(0.150,0.0160),
    (0.0193,0.0149),(0.0217,0.0120),(0.0243,0.0139),(0.0273,0.0129),(0.0316,0.0173),(0.0344,0.0149),(0.0364,0.0139),
    (0.0397,0.0139),(0.0459,0.0160),(0.0515,0.0173),(0.0578,0.0139),(0.0649,0.0149),(0.0728,0.0139),(0.0817,0.0149),
    (0.0917,0.0139),(0.100,0.0120),(0.109,0.0129),(0.122,0.0139),(0.130,0.0120),(0.146,0.0120),(0.173,0.0120),
    (0.299,0.0160),(0.366,0.0122),
    (0.0172,0.00897),(0.0230,0.0104),(0.0258,0.00897),(0.0306,0.0104),(0.0364,0.00964),(0.0409,0.00834),
    (0.0459,0.00964),(0.0515,0.00897),(0.0578,0.00775),(0.0649,0.00834),(0.0728,0.00721),(0.0817,0.00775),
    (0.0917,0.00834),(0.103,0.00775),(0.130,0.00775),(0.144,0.00764),(0.108,0.00804),(0.112,0.00670),
    (0.0917,0.00670),(0.0771,0.00624),(0.218,0.00647),(0.252,0.00834),(0.288,0.00804),
    (0.0102,0.00501),(0.0129,0.00579),(0.0153,0.00540),(0.0182,0.00624),(0.0217,0.00579),(0.0273,0.00501),
    (0.0324,0.00579),(0.0409,0.00501),(0.0459,0.00434),(0.0515,0.00579),(0.0612,0.00501),(0.0728,0.00501),
    (0.0817,0.00467),(0.0960,0.00579),(0.0971,0.00540),(0.122,0.00467),(0.130,0.00473),(0.137,0.00467),
    (0.146,0.00473),(0.154,0.00589),
    (0.130,0.00234),(0.154,0.00234),(0.0917,0.00207),(0.109,0.0038),(0.0865,0.00337),
    (0.585,0.025),(0.885,0.0107),(1.15,0.0161),(1.46,0.0304),
]

upper_mid_pts = [
    (4.13,3.11),(4.38,2.9),(4.77,2.69),(5.52,3.0),(4.51,2.5),(5.78,2.64),(3.9,2.42),(4.91,2.33),
    (2.46,2.09),(2.92,2.24),(2.76,1.97),(3.19,1.87),(3.48,1.94),(3.68,1.68),(4.13,1.8),(4.63,1.62),(4.77,1.94),
    (2.53,1.62),(2.32,1.56),(2.68,1.35),(3.1,1.51),(3.28,1.3),(3.38,1.4),(4.02,1.35),(4.77,1.23),(2.76,1.17),
    (1.84,1.3),(1.95,1.26),(2.13,1.17),(1.82,1.09),(2.32,1.23),(2.01,1.35),
    (1.51,1.05),(1.6,0.973),(1.46,0.938),(1.3,0.938),(1.34,0.841),(1.38,0.811),(1.16,0.676),(1.19,0.727),(0.977,0.653),
    (2.26,0.782),(2.32,0.676),(2.07,0.653),(2.01,0.506),
    (1.27,0.607),(1.42,0.585),(1.16,0.544),(1.1,0.454),(1.27,0.393),
    (0.711,0.564),(0.776,0.544),(0.822,0.488),(0.871,0.438),(0.754,0.454),(0.691,0.407),(0.776,0.393),
    (0.846,0.365),(0.923,0.393),(0.732,0.365),(0.798,0.315),(0.691,0.315),(0.652,0.365),(0.548,0.438),(0.615,0.407),
    (1.04,0.245),
    (0.448,0.293),(0.503,0.293),(0.548,0.283),(0.388,0.245),(0.366,0.236),(0.411,0.254),(0.461,0.245),
    (0.846,0.263),(0.776,0.219),(0.754,0.197),(0.798,0.19),(0.671,0.183),(0.691,0.17),
    (0.483,0.197),(0.503,0.183),(0.461,0.17),(0.249,0.197),
    (0.533,0.142),(0.634,0.147),(0.895,0.135),
    (0.173,0.135),(0.244,0.147),(0.267,0.152),(0.287,0.14),(0.238,0.127),(0.238,0.114),
    (0.141,0.106),(0.154,0.0916),(0.194,0.0822),(0.126,0.0686),(0.146,0.0593),
    (0.377,0.0986),(0.548,0.1),(0.776,0.0721),
    (0.356,0.0593),(0.366,0.0513),(0.308,0.0637),(0.274,0.0738),(0.259,0.0637),(0.29,0.0593),(0.336,0.0551),
    (0.377,0.0532),(0.231,0.0494),(0.252,0.0444),(0.299,0.0477),
    (0.097,0.0551),(0.109,0.0571),(0.119,0.0593),(0.106,0.0477),(0.122,0.0513),(0.137,0.0551),(0.159,0.0532),(0.163,0.0494),
    (1.51,0.095),(1.53,0.0671),(2.13,0.07),(2.53,0.111),(0.682,0.054),
    (1.44,0.293),(1.82,0.267),(3.97,0.254),(4.38,0.222),(4.13,0.19),(5.27,0.298),(8.26,0.322),
    (1.84,0.0428),(2.13,0.0395),(0.342,1.97),(1.17,44.3),
]

high_pts = [
    (318,204),(411,205),(161,122),(140,114),(136,94.8),(136,85),(140,57.9),(96.2,74.6),(108,76.3),(88.1,62.7),
    (44.2,172),(15.9,34.3),
    (54,43.3),(58.9,39.6),(64.2,42.6),(52.4,38.3),(57.2,33.1),
    (41.7,34.3),(44.2,31.9),(46.8,30.8),(49.6,29.7),(39.3,30.8),(42.9,27.6),(37.1,28.6),
    (30.3,26.6),(33.1,27.6),(35,25.6),(38.2,24.7),(40.5,26.6),(32.1,23.8),(29.5,23),(36,23),
    (26.3,21.4),(27.8,19.9),(24.8,19.2),(24.1,17.8),(22.1,17.2),(20.8,16.6),(20.2,16),(25.1,16),
    (28.6,13.3),(30.8,12.7),(22.7,9.6),
    (15.6,11.1),(17,12),(18.6,12.9),(19.7,13.8),(17.5,10.7),(16.5,13.3),(20.8,14.9),(18,14.3),
    (17,6.22),(19.7,5.79),(15.2,8.01),(14.3,6.31),(13.9,6.68),
    (11.7,8.93),(12.8,9.27),(11,8.01),(9.84,7.46),(9.29,7.73),(10.4,7.19),(12.1,6.93),(8.28,6.93),(9.02,6.22),
    (9.84,5.79),(11.4,6.22),(8.77,5.38),(10.7,6.68),(12.4,7.46),(9.55,6.45),
    (8.5,8.3),(7.38,4.39),(7.59,4.17),(6.97,5.18),(7.17,5.38),(8.04,5.79),(7.81,5.38),
    (5.85,2.64),(38.2,2.45),(49,1.57),
    (4.39,3.23),(4.78,3.47),(5.21,3.6),(4.52,2.79),(5.07,3.0),(4.26,2.5),(4.65,2.42),(5.37,3.23),
]

fill_pts = [(x, y) for y, row in zip(fill_y, fill_x) for x in row]
groups = [tail_pts, left_pts, right_pts, core_low, core_mid, core_high, fill_pts, mid_pts, upper_mid_pts, high_pts]
k_air = [p[0] for g in groups for p in g]
k_insitu = [p[1] for g in groups for p in g]

plt.rcParams['font.family'] = ['Lato', 'DejaVu Sans']

W, H = 1225, 1173
fig = plt.figure(figsize=(W / 100, H / 100), dpi=100)

# outer chart border
fig.patches.append(Rectangle((9 / W, -0.05), 1.2, 1.05 - 10.5 / H, transform=fig.transFigure,
                             fill=False, edgecolor='#8c8c8c', linewidth=1.3))

ax = fig.add_axes([236 / W, 1 - 1017 / H, 931 / W, 950 / H])
ax.set_facecolor('#FFFFCC')
ax.set_xscale('log')
ax.set_yscale('log')
ax.set_xlim(1e-4, 1e3)
ax.set_ylim(1e-6, 1e3)
ax.set_xticks(x_ticks)
ax.set_xticklabels(x_tick_labels)
ax.set_yticks(y_ticks)
ax.set_yticklabels(y_tick_labels)
ax.xaxis.set_minor_locator(LogLocator(base=10, subs=range(2, 10), numticks=100))
ax.yaxis.set_minor_locator(LogLocator(base=10, subs=range(2, 10), numticks=100))
ax.xaxis.set_minor_formatter(NullFormatter())
ax.yaxis.set_minor_formatter(NullFormatter())
ax.grid(which='minor', color='#b4b4b4', linewidth=1.3)
ax.grid(which='major', color='#878787', linewidth=1.5)
ax.set_axisbelow(True)
ax.tick_params(which='both', length=0)
ax.tick_params(axis='x', pad=29, labelsize=20)
ax.tick_params(axis='y', pad=23, labelsize=20)
for s in ['left', 'bottom']:
    ax.spines[s].set_color('#878787')
    ax.spines[s].set_linewidth(2)
for s in ['top', 'right']:
    ax.spines[s].set_color('#222222')
    ax.spines[s].set_linewidth(1)

ax.plot(curve_x, curve_y, color='black', linewidth=3.8, solid_capstyle='butt', zorder=2)
ax.plot(k_air, k_insitu, linestyle='none', marker='o', markersize=5.4, markerfacecolor='none',
        markeredgecolor='#0000FF', markeredgewidth=1.9, zorder=3, clip_on=False)

# axis titles
fig.text(701.5 / W, 1 - 1148 / H, 'Routine Air Permeability (mD)', ha='center', va='baseline',
         fontsize=28.5, fontweight='bold')

fig.canvas.draw()
r = fig.canvas.get_renderer()
x0 = 63 / W
y0 = 1 - 907 / H
t1 = fig.text(x0, y0, 'In situ', rotation=90, rotation_mode='anchor', ha='left', va='baseline',
              fontsize=32.5, fontweight='bold', fontstyle='italic')
bb = t1.get_window_extent(renderer=r)
gap = 10
fig.text(x0, y0 + (bb.height + gap) / H, 'Klinkenberg Permeablity (mD)', rotation=90, rotation_mode='anchor',
         ha='left', va='baseline', fontsize=32.5, fontweight='bold')

fig.savefig('out.png', dpi=100)
